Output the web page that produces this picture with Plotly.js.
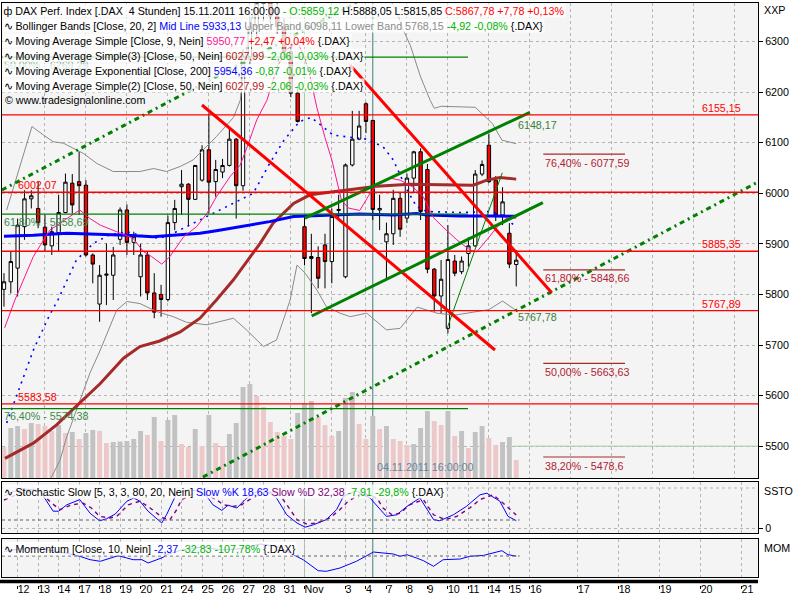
<!DOCTYPE html>
<html><head><meta charset="utf-8">
<script src="https://cdn.plot.ly/plotly-3.0.1.min.js"></script>
<style>html,body{margin:0;padding:0;background:#fff;}#chart{width:800px;height:600px;}</style>
</head><body><div id="chart"></div>
<script>
// ---------- DATA (4-hour DAX candles, index 0 = 11.10. 16:00 ... index 75 = 15.11. 16:00) ----------
const open  = [5810,5825,5852,5934,5989,5970,5933,5896,5922,5962,6020,6023,6016,5878,5781,5838,5838,5909,5967,5903,5835,5878,5803,5800,5790,5942,6013,6018,5988,6026,6086,6023,6042,6055,6107,6015,6270,6330,6375,6385,6350,6330,6280,6198,5934,5871,5873,5898,5865,5966,5835,6056,6107,6177,6144,5967,5904,5920,5990,5951,6030,6082,6047,5850,5797,5733,5866,5845,5881,5896,6038,6095,6026,5957,5921,5859.12];
const high  = [5842,5885,5950,6006,6006,6023,5957,5934,5997,6039,6038,6082,6026,5881,5858,5901,5894,5972,5978,5924,5900,5885,5842,5819,5956,5987,6046,6020,6056,6095,6158,6066,6068,6128,6109,6285,6345,6400,6410,6395,6380,6345,6295,6212,5954,5920,5895,5920,5970,5997,6059,6163,6163,6180,6145,5997,5942,6007,6001,6039,6084,6089,6058,5852,5868,5937,5878,5875,5913,6046,6065,6118,6034,6012,5941,5888.05];
const low   = [5776,5802,5796,5908,5970,5931,5885,5878,5885,5960,5960,5957,5875,5822,5746,5779,5789,5898,5878,5878,5796,5789,5753,5756,5786,5927,5957,5937,5987,6023,5960,5993,6030,6053,5950,6005,6255,6310,6340,6335,6315,6270,6190,6140,5858,5763,5812,5812,5822,5947,5832,6053,6105,6119,5947,5927,5832,5898,5914,5941,6000,5947,5842,5766,5763,5723,5836,5840,5855,5894,6034,6020,5945,5937,5852,5815.85];
const close = [5825,5865,5937,5989,5995,5942,5898,5924,5962,6022,5977,6015,5878,5860,5838,5840,5878,5967,5903,5914,5878,5803,5765,5790,5942,5970,6018,5988,6055,6086,6022,6047,6055,6107,6015,6270,6330,6375,6385,6350,6330,6280,6198,6142,5871,5875,5832,5865,5954,5968,6056,6107,6133,6142,5968,5970,5920,5990,5929,6030,6082,5964,5850,5797,5830,5869,5842,5866,5896,6038,6057,6023,5957,5983,5860,5867.78];
const volume = [31,50,52,49,55,54,52,47,53,45,46,39,45,48,47,35,36,36.5,37,39,47,43,61,37,58,63,34,31,49,32,63,35,32,44,55,91,94,82,71,56,46,42,39,65,75,77,61,53,42,47,80,86,54,39,62,49,52,39,37,33,34,50,67,57,53,67,42,47,30,46,52,40,33,36,41,18];

// indicators: [candle index positions], [values]
const bbUpX  = [0.4,4.1,5.8,7.2,8.7,11.6,13.6,16,19.9,21.9,23.8,25.8,27.7,29.2,31.1,33.6,34.6,35.3,36.5,37.5,55,57.5,58.3,59.5,61,62.4,63,64,69,71.5,72.9,75];
const bbUp   = [5967,6132,6115,6102,6099,6079,6059,6043,6043,6049,6043,6053,6066,6086,6112,6150,6184,6270,6360,6420,6420,6360,6328,6292,6230,6184,6168,6172,6170,6138,6105,6098.11];
const bbLoX  = [0,4,7,8.2,9.2,11.1,12.6,14.1,15.5,16.5,18,19.9,22.4,24.8,26.7,29.7,33.6,35.5,38,39.9,41.4,41.9,42.9,44.1,45.8,47.2,49.2,50.7,53.1,56,58,60.5,63.4,66,71,73,75];
const bbLo   = [5380,5400,5440,5472,5519,5591,5645,5690,5736,5769,5786,5782,5766,5756,5745,5740,5753,5730,5697,5710,5769,5789,5858,5842,5809,5776,5763,5756,5763,5730,5733,5775,5763,5759,5770,5787,5768.15];
const bbMidX = [0.4,2.3,4.3,6.7,7.9,10.6,13.1,15.5,18,20.9,22.8,24.8,27.2,29.7,33.6,36.5,38.9,41,43.3,45,48.2,50.2,53.1,55.5,57,59,60.4,61.9,66.8,71.6,73.5,75];
const bbMid  = [5546,5618,5690,5760,5789,5868,5901,5918,5924,5914,5911,5921,5937,5954,5980,6000,6059,6105,6142,6150,6115,6112,6107,6092,6066,6007,5974,5964,5962,5964,5950,5933.13];
const sma9X  = [0.1,1.6,4.3,6.7,9.2,11.1,12.6,14.1,16.5,18.9,20.4,21.6,23.1,24.3,26.3,28.2,29.7,31.1,33.1,34.6,35.8,37,38.5,40,41.5,43,44.6,45.8,47,48,49.4,50.4,52.1,53.6,55,56.5,58,59.9,61.4,62.8,64.3,66.3,68.2,69.2,70.7,72.2,73.6,75];
const sma9   = [5734,5789,5875,5927,5950,5967,5950,5937,5924,5911,5885,5875,5860,5875,5914,5934,5960,5993,6033,6056,6099,6145,6184,6250,6285,6300,6245,6170,6110,6066,5987,5971,5966,6000,6020,6030,6026,6012,5993,5953,5933,5908,5888,5884,5908,5933,5951,5950.77];
const sma50X = [0.15,4.3,7.7,10.6,14.1,17.5,19.9,22.8,25.8,28.7,31.1,33.6,37.5,39.4,42.4,44.8,49.7,54.6,59.4,68.7,70.7,72.6,75];
const sma50  = [5476,5506,5542,5579,5624,5674,5697,5708,5726,5753,5789,5829,5901,5941,5980,5997,6006,6014,6018,6016,6026,6031,6027.99];
const emaX   = [0,4.3,9.2,14,18,21.8,23.8,26.8,28.7,31.1,34.6,38.9,42.4,44.1,47.2,52.1,57,60.4,61.9,66.8,71.6,75];
const ema200 = [5915,5917,5921,5919,5917,5914,5916,5919,5921,5926,5934,5944,5954,5955,5957,5959,5957,5960,5957,5955,5955,5954.36];

const stochKx = [0,1.5,3,4.5,5.3,7.2,8,9.2,11.1,12.6,14,15,16.3,18,19,19.9,21.1,23.1,23.8,25.3,27,28.5,29.7,30.6,31.9,32.8,34.1,35.3,36.5,38,39.9,41.4,42.9,44.1,45.3,47.2,48.7,49.7,51.5,53.6,56,57.5,59,60.9,62.9,63.8,65.8,67.7,69.7,70.7,72.6,73.8,75];
const stochK  = [80,92,97,96,92,42,42,58,71,37,18,23,35,67,75,67,42,12.5,33,87,96,92,79,58,44,57,50,71,87,97,75,33,12.5,2,8,21,46,79,93,75,29,33,54,75,21,18,33,54,83,87,67,29,18.63];
const stochDx = [0,2.5,5,7,8.2,9.9,11.6,12.8,14,15.5,16.5,18.2,19.9,21.4,23.3,24.3,25.3,26,28.5,31.1,32.1,33.6,34.8,36.3,38.5,40.5,41.9,42.9,44.3,45.8,47.7,49.2,50.4,52.5,54.6,55.5,56.8,58,59.4,61.4,62.9,64.6,66.3,68.2,69.7,71.6,73.1,75];
const stochD  = [70,88,94,62,46,58,62,50,29,25,29,58,67,50,25,21,46,71,92,71,58,54,58,75,92,80,46,21,10,12.5,25,46,67,88,75,50,33,37,58,71,33,21,29,50,71,83,62,32.38];
const momX = [0,3,6,9,11.1,12.6,14.1,15.5,16.7,18,18.9,20.2,21.1,22.4,23.3,23.8,26,29,32,35,37.5,40,42.4,43.8,46,47.2,49.2,51.6,54.1,56,57,58,59,60.4,61.4,62.9,64.3,66.8,68.2,70.2,71.6,72.9,73.8,75];
const mom  = [150,260,220,100,-10,-123,-177,-67,10,-67,-123,-123,-233,-123,-43,43,200,300,200,250,400,320,43,-123,-490,-510,-400,-177,133,100,67,-10,43,-67,-155,-343,-123,-100,-10,20,100,177,43,-2.37];

// drawing tools (endpoints in candle index / price)
const redTrend1X = [28.99, 71.89],  redTrend1Y = [6174.5, 5690.2];
const redTrend2X = [50.66, 80.2],   redTrend2Y = [6253.6, 5803.5];
const chanUpX = [44.07, 77.0],      chanUpY = [5951.1, 6160.1];
const chanLoX = [45.05, 78.9],      chanLoY = [5757.4, 5981.4];
const thinX = [64.9, 72.96],        thinY = [5733.7, 6040.7];
const ddUpX = [-0.3, 53],           ddUpY = [6006.5, 6387];
const ddLoX = [29.14, 110.4],       ddLoY = [5439.1, 6022.3];
const redLevels = [6155.15, 6002.07, 5885.35, 5767.89, 5583.58];
const redLevelLabels = ['6155,15','6002,07','5885,35','5767,89','5583,58'];
const redLevelSide = ['right','left','right','right','left'];
const fibGreen = [6269.29, 5958.69, 5574.38];
const fibGreenLabels = ['50,00% - 6269,29','61,80% - 5958,69','76,40% - 5574,38'];
const fibRed = [6077.59, 5848.66, 5663.63, 5478.6];
const fibRedLabels = ['76,40% - 6077,59','61,80% - 5848,66','50,00% - 5663,63','38,20% - 5478,6'];
const vLines = [44, 54];
const priceTicks = [5500,5600,5700,5800,5900,6000,6100,6200,6300];
const dayTickPos  = [2,5,8,11,14,17,20,23,26,29,32,35,38,41,44,50,53,56,59,62,65,68,71,74,77,84,90,96,102,108];
const dayTickText = ['12','13','14','17','18','19','20','21','24','25','26','27','28','31','Nov','3','4','7','8','9','10','11','14','15','16','17','18','19','20','21'];

// ---------- LAYOUT HELPERS ----------
const PX = p => (p - 2) / 756;
const PY = p => (585 - p) / 582;
const FONT = 'Liberation Sans, Arial, sans-serif';
const FS = 10.7;
const xr = [-0.29, 110.4];
const GRID = '#b4b4b4';
const idx = close.map((_, i) => i);
const volColors = volume.map((v, i) => (i > 0 && v > volume[i-1]) ? '#c2c2c2' : '#ecc8c8');

const line = (x, y, color, width, dash, xa, ya) => ({type:'scatter', mode:'lines', x, y, xaxis:xa||'x', yaxis:ya||'y4',
  line:{color, width, dash: dash||'solid'}, hoverinfo:'skip', showlegend:false});

const traces = [
  {type:'bar', x:idx, y:volume, xaxis:'x', yaxis:'y', width:0.72, marker:{color:volColors, line:{width:0}}, hoverinfo:'skip', showlegend:false},
  {type:'candlestick', x:idx, open, high, low, close, xaxis:'x', yaxis:'y4', whiskerwidth:0,
   increasing:{line:{color:'#000', width:1}, fillcolor:'#ffffff'},
   decreasing:{line:{color:'#000', width:1}, fillcolor:'#ff0000'}, hoverinfo:'skip', showlegend:false},
  line(bbUpX, bbUp, '#8a8a8a', 1),
  line(bbLoX, bbLo, '#8a8a8a', 1),
  line(bbMidX, bbMid, '#0000ff', 1.6, '2px,5px'),
  line(sma50X, sma50, '#a52a2a', 3),
  line(emaX, ema200, '#0000ff', 3),
  line(sma9X, sma9, '#ff1493', 1),
  line(ddUpX, ddUpY, '#008000', 3, '5px,4px,2px,4px'),
  line(ddLoX, ddLoY, '#008000', 3, '5px,4px,2px,4px'),
  line(redTrend1X, redTrend1Y, '#ff0000', 3),
  line(redTrend2X, redTrend2Y, '#ff0000', 3),
  line(chanUpX, chanUpY, '#008000', 3),
  line(chanLoX, chanLoY, '#008000', 3),
  line(thinX, thinY, '#008000', 1),
  line(stochKx, stochK, '#0000ff', 1, 'solid', 'x2', 'y2'),
  line(stochDx, stochD, '#800080', 1.4, '4px,4px', 'x2', 'y2'),
  line(momX, mom, '#0000ff', 1, 'solid', 'x3', 'y3'),
  {type:'scatter', mode:'lines', x:[null], y:[null], xaxis:'x5', yaxis:'y3', hoverinfo:'skip', showlegend:false},
  {type:'scatter', mode:'lines', x:[null], y:[null], xaxis:'x6', yaxis:'y3', hoverinfo:'skip', showlegend:false}
];

const shapes = [];
redLevels.forEach(v => shapes.push({type:'line', xref:'x', yref:'y4', x0:xr[0], x1:xr[1], y0:v, y1:v, line:{color:'#ff0000', width:1.3}}));
fibGreen.forEach(v => shapes.push({type:'line', xref:'x', yref:'y4', x0:xr[0], x1:67.94, y0:v, y1:v, line:{color:'#008000', width:1.3}}));
fibRed.forEach(v => shapes.push({type:'line', xref:'x', yref:'y4', x0:78.96, x1:90.93, y0:v, y1:v, line:{color:'#a52a2a', width:1.2}}));
shapes.push({type:'line', xref:'x', yref:'y4', x0:74.6, x1:xr[1], y0:5500, y1:5500, line:{color:'#a8c8a8', width:1}});
const vCol = ['#a8cca8', '#3f7f7f'];
vLines.forEach((v, k) => ['y domain','y2 domain','y3 domain'].forEach(yr =>
  shapes.push({type:'line', layer:'below', xref:'x', yref:yr, x0:v, x1:v, y0:0, y1:1, line:{color:vCol[k], width:1}})));
shapes.push({type:'line', xref:'x2', yref:'y2', x0:xr[0], x1:75.5, y0:20, y1:20, line:{color:'#606060', width:1, dash:'dot'}});
shapes.push({type:'line', xref:'x2', yref:'y2', x0:xr[0], x1:xr[1], y0:100, y1:100, line:{color:GRID, width:1, dash:'dot'}});
shapes.push({type:'line', xref:'x3', yref:'y3', x0:xr[0], x1:75.5, y0:0, y1:0, line:{color:'#606060', width:1, dash:'dot'}});
shapes.push({type:'line', xref:'paper', yref:'paper', x0:PX(0), x1:PX(758), y0:PY(581.5), y1:PY(581.5), line:{color:'#000', width:3.5}});

const sp = (c, t) => `<span style="color:${c}">${t}</span>`;
const G = '#00b400', R = '#ff0000', B = '#0000ff';
const legendRows = [
  'ф DAX Perf. Index [.DAX\u00a0 4 Stunden] 15.11.2011 16:00:00 ' + sp(G,'- O:5859,12') + ' H:5888,05 L:5815,85 ' + sp(R,'C:5867,78 +7,78 +0,13%'),
  '∿ Bollinger Bands [Close, 20, 2] ' + sp(B,'Mid Line 5933,13') + sp('#8c8c8c',' Upper Band 6098,11 Lower Band 5768,15') + sp(G,' -4,92 -0,08%') + ' {.DAX}',
  '∿ Moving Average Simple [Close, 9, Nein] ' + sp('#ff1493','5950,77') + sp(R,' +2,47 +0,04%') + ' {.DAX}',
  '∿ Moving Average Simple(3) [Close, 50, Nein] ' + sp('#b22222','6027,99') + sp(G,' -2,06 -0,03%') + ' {.DAX}',
  '∿ Moving Average Exponential [Close, 200] ' + sp(B,'5954,36') + sp(G,' -0,87 -0,01%') + ' {.DAX}',
  '∿ Moving Average Simple(2) [Close, 50, Nein] ' + sp('#b22222','6027,99') + sp(G,' -2,06 -0,03%') + ' {.DAX}'
];
const ann = [];
const txt = (o) => Object.assign({showarrow:false, font:{family:FONT, size:FS, color:'#000'}}, o);
// chart labels first (they sit underneath the semi-transparent legend boxes)
redLevels.forEach((v, k) => {
  const right = redLevelSide[k] === 'right';
  ann.push(txt({xref:'x', yref:'y4', x: right ? 108.27 : 1.76, y:v, xanchor: right ? 'right' : 'left', yanchor:'middle', yshift:7, text:redLevelLabels[k], font:{family:FONT, size:FS, color:'#ff0000'}}));
});
fibGreen.forEach((v, k) => ann.push(txt({xref:'x', yref:'y4', x:xr[0], y:v, xanchor:'left', yanchor:'middle', yshift:-7.5, text:fibGreenLabels[k], font:{family:FONT, size:FS, color:'#3a8a4a'}})));
fibRed.forEach((v, k) => ann.push(txt({xref:'x', yref:'y4', x:78.96, y:v, xanchor:'left', yanchor:'middle', yshift:-8.5, text:fibRedLabels[k], font:{family:FONT, size:FS, color:'#b22232'}})));
ann.push(txt({xref:'x', yref:'y4', x:74.97, y:6148.17, xanchor:'left', yanchor:'middle', yshift:-6.5, text:'6148,17', font:{family:FONT, size:FS, color:'#3a7f3a'}}));
ann.push(txt({xref:'x', yref:'y4', x:74.97, y:5767.78, xanchor:'left', yanchor:'middle', yshift:-6.5, text:'5767,78', font:{family:FONT, size:FS, color:'#3a7f3a'}}));
ann.push(txt({xref:'x', yref:'paper', x:54.32, y:PY(467), xanchor:'left', yanchor:'middle', text:'04.11.2011 16:00:00', font:{family:FONT, size:FS, color:'#5f87a0'}}));
// legend boxes
legendRows.forEach((t, k) => ann.push(txt({xref:'paper', yref:'paper', x:PX(2), y:PY(10.5 + 15*k), xanchor:'left', yanchor:'middle', text:t, bgcolor:'rgba(255,255,255,0.8)', borderpad:0.5})));
ann.push(txt({xref:'paper', yref:'paper', x:PX(3), y:PY(100.5), xanchor:'left', yanchor:'middle', text:'© www.tradesignalonline.com'}));
ann.push(txt({xref:'paper', yref:'paper', x:PX(2), y:PY(491), xanchor:'left', yanchor:'middle', bgcolor:'rgba(255,255,255,0.8)', borderpad:0.5,
  text:'∿ Stochastic Slow [5, 3, 3, 80, 20, Nein] ' + sp(B,'Slow %K 18,63') + sp('#800080',' Slow %D 32,38') + sp(G,' -7,91 -29,8%') + ' {.DAX}'}));
ann.push(txt({xref:'paper', yref:'paper', x:PX(2), y:PY(548), xanchor:'left', yanchor:'middle', bgcolor:'rgba(255,255,255,0.8)', borderpad:0.5,
  text:'∿ Momentum [Close, 10, Nein] ' + sp(B,'-2,37') + sp(G,' -32,83 -107,78%') + ' {.DAX}'}));
ann.push(txt({xref:'paper', yref:'paper', x:PX(762), y:PY(10), xanchor:'left', yanchor:'middle', text:'XXP'}));
ann.push(txt({xref:'paper', yref:'paper', x:PX(762), y:PY(491), xanchor:'left', yanchor:'middle', text:'SSTO'}));
ann.push(txt({xref:'paper', yref:'paper', x:PX(762), y:PY(548), xanchor:'left', yanchor:'middle', text:'MOM'}));

const baseX = {range:xr, showticklabels:false, ticks:'', showgrid:true, gridcolor:GRID, griddash:'dot', gridwidth:1,
  showline:true, mirror:true, linecolor:'#000', linewidth:1, zeroline:false, fixedrange:true};
const layout = {
  width:800, height:600, margin:{l:2, r:42, t:3, b:15},
  paper_bgcolor:'#ffffff', plot_bgcolor:'#f4f4f4', showlegend:false, hovermode:false,
  font:{family:FONT, size:FS, color:'#000'},
  xaxis: Object.assign({}, baseX, {domain:[0,1], anchor:'y', tickvals:[6,12,18,24,30,36,42,48,53,59,65,71,77,83,89,95,101,107], rangeslider:{visible:false}}),
  yaxis: {domain:[PY(478), 1], anchor:'x', range:[0,475], showgrid:false, showticklabels:false, ticks:'', zeroline:false, showline:true, mirror:true, linecolor:'#000', fixedrange:true},
  yaxis4: {overlaying:'y', anchor:'x', side:'right', range:[5437.1, 6376.2], tickvals:priceTicks, ticktext:priceTicks.map(String),
    ticks:'outside', ticklen:4, tickcolor:'#000', showgrid:true, gridcolor:GRID, griddash:'dot', zeroline:false, showline:false, fixedrange:true},
  xaxis2: Object.assign({}, baseX, {domain:[0,1], anchor:'y2', tickvals:dayTickPos}),
  yaxis2: {domain:[PY(533), PY(482)], anchor:'x2', side:'right', range:[-12.5, 115], tickvals:[0], ticktext:['0'], ticks:'outside', ticklen:4, tickcolor:'#000',
    showgrid:true, gridcolor:GRID, griddash:'dot', zeroline:false, showline:true, mirror:true, linecolor:'#000', fixedrange:true},
  xaxis3: Object.assign({}, baseX, {domain:[0,1], anchor:'y3', tickvals:dayTickPos}),
  yaxis3: {domain:[PY(577), PY(539)], anchor:'x3', range:[-700, 567], showgrid:false, showticklabels:false, ticks:'', zeroline:false,
    showline:true, mirror:true, linecolor:'#000', fixedrange:true},
  // day labels (no tick marks) placed just under the heavy rule
  xaxis5: {overlaying:'x3', anchor:'free', position:0.006, range:xr, tickvals:dayTickPos, ticktext:dayTickText, ticks:'', tickangle:0,
    ticklabelposition:'outside right', showgrid:false, showline:false, zeroline:false, fixedrange:true},
  // small tick marks
  xaxis6: {overlaying:'x3', anchor:'free', position:0, range:xr, tickvals:dayTickPos, showticklabels:false, ticks:'outside', ticklen:3,
    tickcolor:'#000', showgrid:false, showline:false, zeroline:false, fixedrange:true},
  shapes, annotations: ann
};
Plotly.newPlot('chart', traces, layout, {staticPlot:true, displayModeBar:false});
</script>
</body></html>
